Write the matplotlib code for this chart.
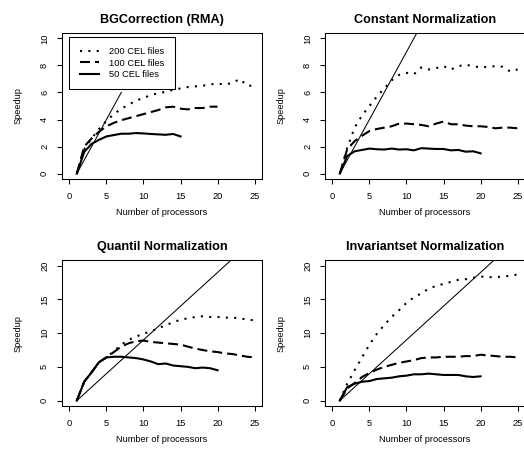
import matplotlib
matplotlib.use("Agg")
import matplotlib.pyplot as plt
import numpy as np

plt.rcParams['font.family'] = ['Liberation Sans', 'DejaVu Sans']

W, H = 524, 454

titles = ["BGCorrection (RMA)", "Constant Normalization",
          "Quantil Normalization", "Invariantset Normalization"]
series_labels = ["200 CEL files", "100 CEL files", "50 CEL files"]

# BGCorrection (RMA)
bg_200 = [0, 1.8, 2.6, 3.3, 3.9, 4.4, 4.8, 5.1, 5.4, 5.6, 5.8, 5.95, 6.05, 6.2, 6.3,
          6.4, 6.45, 6.5, 6.6, 6.65, 6.6, 6.7, 7.0, 6.5, 6.5]
bg_100 = [0, 2.0, 2.6, 3.1, 3.5, 3.75, 3.95, 4.1, 4.25, 4.4, 4.55, 4.7, 4.9, 4.95, 4.8,
          4.75, 4.85, 4.85, 4.95, 4.95]
bg_50 = [0, 1.6, 2.2, 2.5, 2.75, 2.85, 2.95, 2.95, 3.0, 2.97, 2.93, 2.9, 2.87, 2.93, 2.75]

# Constant Normalization
co_200 = [0, 1.9, 3.4, 4.3, 5.0, 5.7, 6.3, 6.9, 7.3, 7.45, 7.35, 7.85, 7.7, 7.8, 7.95,
          7.7, 7.95, 8.05, 7.95, 7.85, 7.9, 7.95, 7.9, 7.55, 7.7]
co_100 = [0, 1.8, 2.4, 2.8, 3.15, 3.3, 3.4, 3.5, 3.7, 3.7, 3.65, 3.6, 3.5, 3.7, 3.85,
          3.65, 3.65, 3.55, 3.5, 3.5, 3.45, 3.35, 3.4, 3.4, 3.35]
co_50 = [0, 1.3, 1.65, 1.75, 1.85, 1.8, 1.78, 1.85, 1.78, 1.8, 1.72, 1.88, 1.85, 1.82,
         1.82, 1.72, 1.75, 1.62, 1.65, 1.5]

# Quantil Normalization
qu_200 = [0, 2.8, 4.2, 5.7, 6.4, 7.3, 8.3, 9.0, 9.5, 9.9, 10.3, 10.7, 11.2, 11.6, 12.0,
          12.2, 12.4, 12.5, 12.4, 12.4, 12.3, 12.3, 12.2, 12.0, 11.9]
qu_100 = [0, 2.8, 4.2, 5.7, 6.4, 7.2, 8.0, 8.5, 8.8, 8.9, 8.7, 8.6, 8.5, 8.4, 8.3,
          8.0, 7.7, 7.5, 7.3, 7.2, 7.0, 6.9, 6.7, 6.5, 6.4]
qu_50 = [0, 2.8, 4.2, 5.7, 6.4, 6.5, 6.5, 6.4, 6.3, 6.1, 5.8, 5.4, 5.5, 5.2, 5.1,
         5.0, 4.8, 4.9, 4.8, 4.5]

# Invariantset Normalization
in_200 = [0, 2.5, 4.5, 6.4, 8.3, 9.9, 11.2, 12.4, 13.4, 14.5, 15.3, 15.9, 16.6, 17.0,
          17.3, 17.6, 17.9, 18.0, 18.2, 18.4, 18.3, 18.3, 18.4, 18.5, 18.7]
in_100 = [0, 1.8, 2.6, 3.5, 4.1, 4.6, 5.0, 5.3, 5.6, 5.8, 6.0, 6.3, 6.4, 6.4, 6.5,
          6.5, 6.5, 6.6, 6.6, 6.8, 6.7, 6.6, 6.5, 6.5, 6.4]
in_50 = [0, 2.0, 2.5, 2.8, 2.9, 3.2, 3.3, 3.4, 3.6, 3.7, 3.9, 3.9, 4.0, 3.9, 3.8,
         3.8, 3.8, 3.6, 3.5, 3.6]

# ideal speedup line end (processors)
ideal_end = [7, 26, 26, 26]

panel_data = [(bg_200, bg_100, bg_50), (co_200, co_100, co_50),
              (qu_200, qu_100, qu_50), (in_200, in_100, in_50)]
ymax = [10, 10, 20, 20]
ystep = [2, 2, 5, 5]

# pixel boxes: left, top, right, bottom
boxes = [(62, 33, 262, 179), (325, 33, 525, 179),
         (62, 260.3, 262, 406), (325, 260.3, 525, 406)]

fig = plt.figure(figsize=(W / 100, H / 100), dpi=100)
fs = 6.64
tfs = 9.06

def fx(x):
    return x / W

def fy(y):
    return 1 - y / H

styles = [dict(linestyle=(0, (1, 3)), dash_capstyle='butt'),
          dict(linestyle=(0, (4.8, 2.4))),
          dict(linestyle='-')]

for i in range(4):
    l, t, r, b = boxes[i]
    ax = fig.add_axes([fx(l), fy(b), (r - l) / W, (b - t) / H])
    ax.set_xlim(-1, 26)
    pad = ymax[i] * 0.04
    ax.set_ylim(-pad, ymax[i] + pad)
    handles = []
    for s, ser in enumerate(panel_data[i]):
        xs = np.arange(1, len(ser) + 1)
        h, = ax.plot(xs, ser, color='black', lw=1.5, **styles[s])
        handles.append(h)
    xe = ideal_end[i]
    ax.plot([1, xe], [0, xe - 1], color='black', lw=0.75)
    ax.set_xticks(np.arange(0, 26, 5))
    ax.set_yticks(np.arange(0, ymax[i] + 0.1, ystep[i]))
    ax.tick_params(axis='both', direction='out', length=3.3, width=0.75,
                   labelsize=fs, color='black', pad=6)
    for lab in ax.get_yticklabels():
        lab.set_rotation(90)
        lab.set_va('center')
    for sp in ax.spines.values():
        sp.set_linewidth(0.75)
    ax.set_title(titles[i], fontsize=tfs, fontweight='bold', pad=7.3)
    fig.text(fx((l + r) / 2), fy(b + 33), "Number of processors", fontsize=fs,
             ha='center', va='center')
    fig.text(fx(l - 43.5), fy((t + b) / 2), "Speedup", fontsize=fs,
             ha='center', va='center', rotation=90)
    if i == 0:
        leg = ax.legend(handles, series_labels, loc='upper left',
                        bbox_to_anchor=(0, 10.12), bbox_transform=ax.transData,
                        borderaxespad=0, fancybox=False, edgecolor='black',
                        framealpha=1, fontsize=fs, handlelength=2.1,
                        handletextpad=1.1, borderpad=1.1, labelspacing=0.28)
        leg.get_frame().set_linewidth(0.75)

fig.savefig("out.png", dpi=100)
